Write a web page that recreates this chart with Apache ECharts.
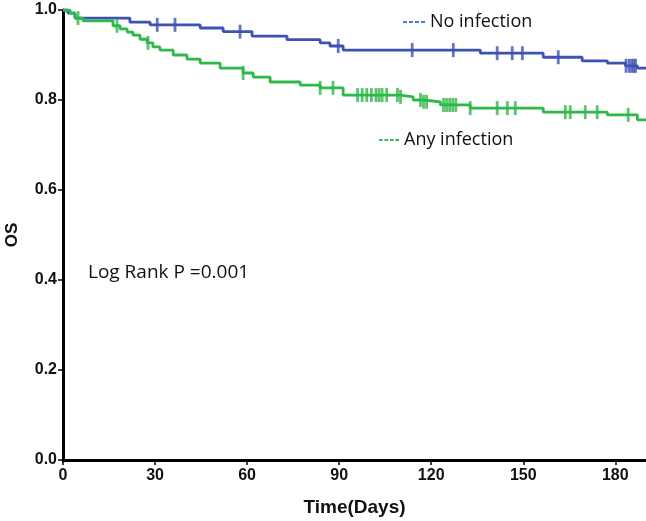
<!DOCTYPE html>
<html>
<head>
<meta charset="utf-8">
<script src="https://cdn.jsdelivr.net/npm/echarts@6/dist/echarts.min.js"></script>
<style>
html,body{margin:0;padding:0;background:#fff;}
#c{width:646px;height:521px;}
</style>
</head>
<body>
<div id="c"></div>
<script>
// Kaplan-Meier steps: [time (days), survival]
var noInfSteps = [
  [0,1.0],[1.6,0.993],[3.9,0.982],[21.8,0.973],[28.4,0.967],[44.7,0.960],
  [52.2,0.952],[61.6,0.942],[73.0,0.934],[83.8,0.927],[87.0,0.920],[91.3,0.911],
  [136.0,0.904],[156.5,0.895],[169.2,0.887],[177.4,0.882],[183.3,0.876],[187.2,0.871],[190,0.871]
];
var anyInfSteps = [
  [0,1.0],[2.3,0.993],[3.9,0.982],[6.5,0.976],[16.3,0.965],[18.6,0.958],[20.9,0.951],
  [22.8,0.944],[25.1,0.935],[27.4,0.927],[29.3,0.918],[31.6,0.911],[35.9,0.900],
  [40.4,0.891],[44.7,0.882],[51.2,0.871],[58.7,0.860],[62.0,0.851],[67.5,0.840],
  [77.3,0.833],[83.8,0.827],[91.3,0.811],[109.9,0.807],[114.1,0.800],[117.4,0.796],
  [123.0,0.789],[132.7,0.782],[156.5,0.773],[177.4,0.767],[187.2,0.756],[190,0.756]
];
// Censored times (days)
var noInfCensor = [30.7,36.5,57.7,89.7,113.8,127.2,141.5,146.4,149.7,161.4,183.5,184.5,185.3,186.0,186.6];
var anyInfCensor = [4.9,17.6,27.7,58.7,83.8,88.0,96.0,97.5,99.0,100.5,102.0,103.0,104.0,105.5,
  109.0,110.0,116.5,117.5,118.5,124.0,125.0,126.0,127.0,128.0,132.7,141.5,144.8,147.4,
  163.7,165.3,170.2,174.1,184.2];
var xTicks = [0,30,60,90,120,150,180];
var yTicks = [0.0,0.2,0.4,0.6,0.8,1.0];
var seriesNames = ['No infection','Any infection'];
var pText = 'Log Rank P =0.001';

function survAt(steps, t){
  var s = steps[0][1];
  for (var i=0;i<steps.length;i++){ if (steps[i][0] <= t) s = steps[i][1]; }
  return s;
}
function censorPts(steps, times){ return times.map(function(t){ return [t, survAt(steps,t)]; }); }

var blue = '#3d52b3', green = '#2fb84a';
var dashIcon = 'path://M0,0h4v2h-4z M6,0h4v2h-4z M12,0h4v2h-4z M18,0h4v2h-4z';

var chart = echarts.init(document.getElementById('c'));
chart.setOption({
  animation:false,
  grid:{left:63,right:0,top:10,bottom:61,containLabel:false,outerBoundsMode:'none'},
  legend:[
    {data:[{name:seriesNames[0],itemStyle:{color:'#4f7fd0'}}], left:398, top:8, icon:dashIcon,
     itemWidth:22, itemHeight:2, itemGap:4,
     textStyle:{fontFamily:'Open Sans',fontSize:18,color:'#111'}},
    {data:[{name:seriesNames[1],itemStyle:{color:'#3cba55'}}], left:374, top:126, icon:dashIcon,
     itemWidth:20, itemHeight:2, itemGap:1,
     textStyle:{fontFamily:'Open Sans',fontSize:18,color:'#111'}}
  ],
  xAxis:{type:'value',min:0,max:190,interval:30,
    name:'Time(Days)',nameLocation:'middle',nameGap:38,
    nameTextStyle:{fontFamily:'Liberation Sans',fontWeight:'bold',fontSize:19,color:'#111'},
    axisLine:{show:true,lineStyle:{color:'#000',width:3}},
    axisTick:{show:true,length:5,lineStyle:{color:'#000',width:1.5},customValues:xTicks},
    axisLabel:{fontFamily:'Liberation Sans',fontWeight:'bold',fontSize:16,color:'#111',margin:8,
      customValues:xTicks},
    splitLine:{show:false}},
  yAxis:{type:'value',min:0,max:1,interval:0.2,
    name:'OS',nameLocation:'middle',nameGap:42,
    nameTextStyle:{fontFamily:'Liberation Sans',fontWeight:'bold',fontSize:17,color:'#111'},
    axisLine:{show:true,lineStyle:{color:'#000',width:3}},
    axisTick:{show:true,length:5,lineStyle:{color:'#000',width:1.5}},
    axisLabel:{fontFamily:'Liberation Sans',fontWeight:'bold',fontSize:16,color:'#111',margin:6,
      formatter:function(v){return v.toFixed(1);}},
    splitLine:{show:false}},
  graphic:[{type:'text',left:88,top:263,style:{text:pText,fontFamily:'Open Sans',fontSize:19,fill:'#111'}}],
  series:[
    {name:seriesNames[0],type:'line',step:'end',data:noInfSteps,showSymbol:false,symbol:'none',
     lineStyle:{color:blue,width:2.8},itemStyle:{color:blue},z:3},
    {name:seriesNames[1],type:'line',step:'end',data:anyInfSteps,showSymbol:false,symbol:'none',
     lineStyle:{color:green,width:2.8},itemStyle:{color:green},z:3},
    {name:seriesNames[0],type:'scatter',data:censorPts(noInfSteps,noInfCensor),symbol:'rect',
     symbolSize:[2.8,14],itemStyle:{color:blue},z:4},
    {name:seriesNames[1],type:'scatter',data:censorPts(anyInfSteps,anyInfCensor),symbol:'rect',
     symbolSize:[2.8,14],itemStyle:{color:green},z:4}
  ]
});
</script>
</body>
</html>
